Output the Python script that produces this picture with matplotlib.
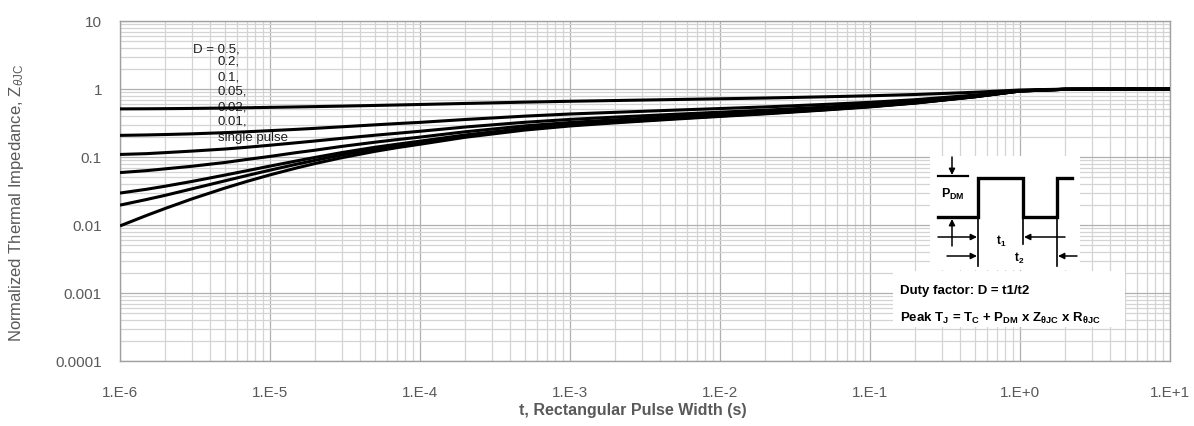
"""
    Transient thermal impedance curves (normalized Z_thJC vs pulse width)
"""

import matplotlib
matplotlib.use("Agg")
import matplotlib.pyplot as plt
from matplotlib.ticker import LogLocator, FixedLocator, FixedFormatter, NullFormatter

plt.rcParams['font.family'] = ['Liberation Sans', 'DejaVu Sans']
plt.rcParams['mathtext.fontset'] = 'custom'
plt.rcParams['mathtext.rm'] = 'Liberation Sans'
plt.rcParams['mathtext.it'] = 'Liberation Sans:italic'
plt.rcParams['mathtext.bf'] = 'Liberation Sans:bold'

# pulse width (s)
t = [1e-6, 1.5e-6, 2e-6, 3e-6, 5e-6, 7e-6, 1e-5, 1.5e-5, 2e-5, 3e-5, 5e-5, 7e-5,
     1e-4, 2e-4, 5e-4, 1e-3, 2e-3, 5e-3, 1e-2, 2e-2, 5e-2, 1e-1, 2e-1, 5e-1,
     1.0, 2.0, 5.0, 10.0]

# normalized Z_thJC, one list per duty factor
z_d05 = [0.51, 0.512, 0.514, 0.518, 0.525, 0.53, 0.537, 0.545, 0.551, 0.56, 0.573, 0.582,
         0.592, 0.613, 0.641, 0.66, 0.677, 0.70, 0.718, 0.737, 0.768, 0.795, 0.83, 0.895,
         0.967, 0.995, 1.0, 1.0]
z_d02 = [0.208, 0.211, 0.214, 0.219, 0.228, 0.235, 0.244, 0.255, 0.264, 0.278, 0.297, 0.31,
         0.323, 0.356, 0.399, 0.429, 0.454, 0.489, 0.516, 0.545, 0.593, 0.637, 0.696, 0.814,
         0.946, 0.992, 1.0, 1.0]
z_d01 = [0.109, 0.112, 0.116, 0.122, 0.131, 0.139, 0.149, 0.162, 0.172, 0.188, 0.209, 0.223,
         0.239, 0.276, 0.324, 0.357, 0.386, 0.425, 0.456, 0.488, 0.542, 0.591, 0.658, 0.79,
         0.94, 0.991, 1.0, 1.0]
z_d005 = [0.059, 0.063, 0.067, 0.073, 0.083, 0.092, 0.102, 0.116, 0.126, 0.143, 0.165, 0.18,
          0.196, 0.235, 0.287, 0.322, 0.352, 0.393, 0.425, 0.46, 0.517, 0.569, 0.639, 0.779,
          0.936, 0.99, 1.0, 1.0]
z_d002 = [0.0295, 0.0335, 0.0372, 0.0436, 0.0542, 0.0628, 0.0735, 0.0875, 0.0986, 0.116, 0.139, 0.154,
          0.171, 0.211, 0.264, 0.3, 0.332, 0.374, 0.407, 0.442, 0.501, 0.555, 0.628, 0.772,
          0.934, 0.99, 1.0, 1.0]
z_d001 = [0.0196, 0.0237, 0.0273, 0.0339, 0.0446, 0.0533, 0.0641, 0.0782, 0.0894, 0.107, 0.13, 0.146,
          0.163, 0.203, 0.257, 0.293, 0.325, 0.367, 0.401, 0.437, 0.496, 0.551, 0.624, 0.769,
          0.934, 0.99, 1.0, 1.0]
z_single = [0.0097, 0.0138, 0.0175, 0.0241, 0.0349, 0.0437, 0.0546, 0.0689, 0.0802, 0.0975, 0.121, 0.137,
            0.154, 0.195, 0.249, 0.286, 0.318, 0.361, 0.395, 0.431, 0.491, 0.546, 0.62, 0.767,
            0.933, 0.99, 1.0, 1.0]

d_labels = ["D = 0.5,", "0.2,", "0.1,", "0.05,", "0.02,", "0.01,", "single pulse"]

x_ticks = [1e-6, 1e-5, 1e-4, 1e-3, 1e-2, 1e-1, 1e0, 1e1]
x_ticklabels = ["1.E-6", "1.E-5", "1.E-4", "1.E-3", "1.E-2", "1.E-1", "1.E+0", "1.E+1"]
y_ticks = [1e-4, 1e-3, 1e-2, 1e-1, 1, 10]
y_ticklabels = ["0.0001", "0.001", "0.01", "0.1", "1", "10"]

W, H = 1194, 427
TXT = '#595959'

def px(x, y):
    return x / W, 1 - y / H

fig = plt.figure(figsize=(W / 100, H / 100), dpi=100)
ax = fig.add_axes([120 / W, 1 - 362 / H, 1050 / W, 340 / H])

for z in [z_d05, z_d02, z_d01, z_d005, z_d002, z_d001, z_single]:
    ax.plot(t, z, color='black', lw=2.2, zorder=3, solid_capstyle='butt')

ax.set_xscale('log')
ax.set_yscale('log')
ax.set_xlim(1e-6, 10)
ax.set_ylim(1e-4, 10)

ax.xaxis.set_major_locator(FixedLocator(x_ticks))
ax.xaxis.set_major_formatter(FixedFormatter(x_ticklabels))
ax.yaxis.set_major_locator(FixedLocator(y_ticks))
ax.yaxis.set_major_formatter(FixedFormatter(y_ticklabels))
for a in (ax.xaxis, ax.yaxis):
    a.set_minor_locator(LogLocator(base=10, subs=range(2, 10), numticks=20))
    a.set_minor_formatter(NullFormatter())

ax.grid(True, which='major', color='#b0b0b0', lw=0.9)
ax.grid(True, which='minor', color='#d4d4d4', lw=0.9)
ax.set_axisbelow(True)
ax.tick_params(which='both', length=0)
ax.tick_params(axis='x', pad=17, labelsize=11, labelcolor=TXT)
ax.tick_params(axis='y', pad=13, labelsize=11, labelcolor=TXT)
for s in ax.spines.values():
    s.set_color('#a0a0a0')
    s.set_linewidth(1.0)

fig.text(*px(633, 411), "t, Rectangular Pulse Width (s)", ha='center', va='center',
         fontsize=11.5, fontweight='bold', color=TXT)
fig.text(*px(17, 203), r"Normalized Thermal Impedance, Z$_{\theta\mathrm{JC}}$",
         ha='center', va='center', rotation=90, fontsize=12, color=TXT)

# duty factor labels (under the curves)
lab_x = [193, 218, 218, 218, 218, 218, 218]
lab_y = [49, 62, 77, 92, 107, 122, 138]
for s, lx, ly in zip(d_labels, lab_x, lab_y):
    ax.text(*px(lx, ly), s, transform=fig.transFigure, ha='left', va='center',
            fontsize=9.5, color='#1e1e1e', zorder=1)

# inset: pulse diagram and formula box, drawn in pixel space
ov = fig.add_axes([0, 0, 1, 1], zorder=5)
ov.set_xlim(0, W)
ov.set_ylim(H, 0)
ov.axis('off')
ov.patch.set_alpha(0)

ov.add_patch(plt.Rectangle((930, 157), 150, 114, color='white', lw=0))
ov.add_patch(plt.Rectangle((893, 272), 232, 56, color='white', lw=0))

ov.plot([938, 978, 978, 1023, 1023, 1057, 1057, 1072],
        [218, 218, 179, 179, 218, 218, 179, 179], color='black', lw=2.4,
        solid_joinstyle='miter')
ov.plot([978, 978], [218, 267], color='black', lw=1.2)
ov.plot([1023, 1023], [218, 245], color='black', lw=1.2)
ov.plot([1057, 1057], [218, 267], color='black', lw=1.2)
ov.plot([938, 968], [177, 177], color='black', lw=1.6)

arr = dict(arrowstyle='-|>', color='black', lw=1.1, mutation_scale=9,
           shrinkA=0, shrinkB=0)
for (x0, y0, x1, y1) in [(952, 158, 952, 176), (952, 247, 952, 220),
                         (938, 238, 977, 238), (1065, 238, 1024, 238),
                         (947, 257, 977, 257), (1077, 257, 1058, 257)]:
    ov.annotate('', xy=(x1, y1), xytext=(x0, y0), arrowprops=arr)

ov.text(941, 194, r"P$_{\mathbf{DM}}$", fontsize=9, fontweight='bold',
        ha='left', va='center')
ov.text(996, 241, r"t$_{\mathbf{1}}$", fontsize=8.5, fontweight='bold',
        ha='left', va='center')
ov.text(1014, 258, r"t$_{\mathbf{2}}$", fontsize=8.5, fontweight='bold',
        ha='left', va='center')
ov.text(900, 291, "Duty factor: D = t1/t2", fontsize=9.5, fontweight='bold',
        ha='left', va='center')
ov.text(900, 318,
        r"Peak T$_{\mathbf{J}}$ = T$_{\mathbf{C}}$ + P$_{\mathbf{DM}}$ x "
        r"Z$_{\mathbf{\theta JC}}$ x R$_{\mathbf{\theta JC}}$",
        fontsize=9.5, fontweight='bold', ha='left', va='center')

fig.savefig("out.png", dpi=100)
